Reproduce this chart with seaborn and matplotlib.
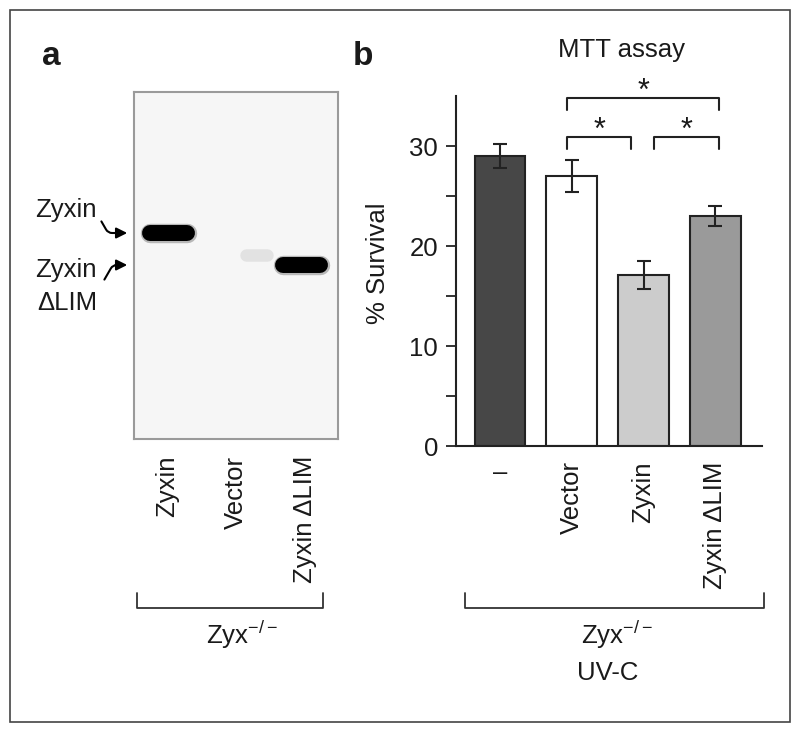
#Zyxin western blot (a) and MTT survival assay (b)
import pandas as pd
import matplotlib.pyplot as plt
from matplotlib.patches import Rectangle
import seaborn as sns

sns.set_style("ticks")
plt.rcParams['font.family'] = ['Liberation Sans', 'DejaVu Sans']
plt.rcParams['mathtext.fontset'] = 'custom'
plt.rcParams['mathtext.rm'] = 'Liberation Sans'
plt.rcParams['text.color'] = '#1a1a1a'
plt.rcParams['xtick.color'] = '#1a1a1a'
plt.rcParams['ytick.color'] = '#1a1a1a'

# panel a: blot lanes and bands
lanes = ["Zyxin", "Vector", "Zyxin \u0394LIM"]
band_lane = [0.02, 1.3, 1.95]
band_pos = [0.405, 0.47, 0.498]   # relative migration (0 = top of gel)
band_level = [1.0, 0.08, 1.0]

# panel b: MTT assay
groups = ["\u2013", "Vector", "Zyxin", "Zyxin \u0394LIM"]
survival = [29.0, 27.0, 17.1, 23.0]
sem = [1.2, 1.6, 1.4, 1.0]
bar_colors = ["#474747", "#ffffff", "#cccccc", "#9a9a9a"]
sig_pairs = [(1, 2), (2, 3), (1, 3)]
sig_tops = [30.9, 30.9, 34.8]

W, H = 800, 732
def fx(x): return x / W
def fy(y): return 1 - y / H

fs = 18.5
ink = "#222222"
fig = plt.figure(figsize=(8, 7.32), dpi=100)
fig.patches.append(Rectangle((fx(10), fy(722)), fx(780), 712 / H, transform=fig.transFigure,
                             fill=False, edgecolor="#444444", linewidth=1.2))

# ---- panel a ----
axa = fig.add_axes([fx(134), fy(439), fx(204), 347 / H])
axa.set_facecolor("#f6f6f6")
axa.set_xlim(-0.48, 2.48)
axa.set_ylim(1, 0)
for lane, pos, lev in zip(band_lane, band_pos, band_level):
    if lev > 0.5:
        half = 0.27
        axa.plot([lane - half, lane + half], [pos, pos], lw=14, alpha=0.25,
                 color='black', solid_capstyle='round')
        axa.plot([lane - half, lane + half], [pos, pos], lw=11.5, color='black',
                 solid_capstyle='round')
    else:
        axa.plot([lane - 0.15, lane + 0.15], [pos, pos], lw=9, alpha=lev,
                 color='black', solid_capstyle='round')
axa.set_yticks([])
axa.set_xticks([0, 1, 2])
axa.set_xticklabels(lanes, rotation=90, fontsize=fs, va='top')
axa.tick_params(axis='x', length=0, pad=12)
for s in axa.spines.values():
    s.set_color("#9a9a9a")
    s.set_linewidth(1.5)

fig.text(fx(97), fy(217), "Zyxin", ha='right', va='baseline', fontsize=fs)
fig.text(fx(97), fy(277), "Zyxin", ha='right', va='baseline', fontsize=fs)
fig.text(fx(97), fy(310), "\u0394LIM", ha='right', va='baseline', fontsize=fs)
arrow = dict(arrowstyle='-|>', color='black', lw=1.5, mutation_scale=16)
axa.annotate('', xy=(130, H - 233), xytext=(100, H - 219), xycoords='figure pixels',
             textcoords='figure pixels', annotation_clip=False,
             arrowprops=dict(arrow, connectionstyle="angle,angleA=-60,angleB=180,rad=4"))
axa.annotate('', xy=(130, H - 265), xytext=(103, H - 282), xycoords='figure pixels',
             textcoords='figure pixels', annotation_clip=False,
             arrowprops=dict(arrow, connectionstyle="angle,angleA=60,angleB=180,rad=4"))

# ---- panel b ----
axb = fig.add_axes([fx(456), fy(446), fx(306), 350 / H])
df = pd.DataFrame({"group": groups, "survival": survival})
sns.barplot(data=df, x="group", y="survival", hue="group", order=groups, hue_order=groups,
            palette=bar_colors, legend=False, width=0.71, edgecolor=ink, linewidth=1.5,
            errorbar=None, ax=axb)
axb.errorbar(range(len(groups)), survival, yerr=sem, fmt='none', ecolor=ink,
             elinewidth=1.5, capsize=5, capthick=1.5)
axb.set_xlim(-0.613, 3.65)
axb.set_ylim(0, 35)
axb.set_yticks([0, 10, 20, 30])
axb.set_yticks([5, 15, 25], minor=True)
axb.tick_params(axis='y', which='both', length=7, width=1.3, color=ink, labelsize=fs, pad=6)
axb.set_xticks(range(len(groups)))
axb.set_xticklabels(groups, rotation=90, va='top')
axb.tick_params(axis='x', length=0, labelsize=fs, pad=11)
axb.get_xticklabels()[0].set_rotation(0)
axb.set_xlabel("")
axb.set_ylabel("")
sns.despine(ax=axb)
for s in ("left", "bottom"):
    axb.spines[s].set_linewidth(1.5)
    axb.spines[s].set_color(ink)

for (i, j), top in zip(sig_pairs, sig_tops):
    x0 = i + (0.14 if i == 2 else -0.06)
    x1 = j + (-0.18 if j == 2 else 0.05)
    axb.plot([x0, x0, x1, x1], [top - 1.2, top, top, top - 1.2], color=ink, lw=1.5,
             clip_on=False)
    axb.text((x0 + x1) / 2, top + 0.6, "*", ha='center', va='center', fontsize=22,
             clip_on=False)

fig.text(fx(622), fy(50), "MTT assay", ha='center', va='center', fontsize=fs)
fig.text(fx(378), fy(263), "% Survival", ha='center', va='center', rotation=90, fontsize=fs)

# panel letters
fig.text(fx(42), fy(65), "a", fontsize=24, fontweight='bold', va='baseline')
fig.text(fx(353), fy(65), "b", fontsize=24, fontweight='bold', va='baseline')

# group brackets
for x0, x1 in [(137, 323), (465, 764)]:
    fig.add_artist(plt.Line2D([fx(x0), fx(x0), fx(x1), fx(x1)],
                              [fy(593), fy(608), fy(608), fy(593)],
                              transform=fig.transFigure, color="#333333", lw=1.3))
zyx = "$\\mathregular{Zyx^{-/-}}$"
fig.text(fx(242), fy(635), zyx, ha='center', va='center', fontsize=fs)
fig.text(fx(617), fy(635), zyx, ha='center', va='center', fontsize=fs)
fig.text(fx(608), fy(673), "UV-C", ha='center', va='center', fontsize=fs)

fig.savefig("out.png", dpi=100)
